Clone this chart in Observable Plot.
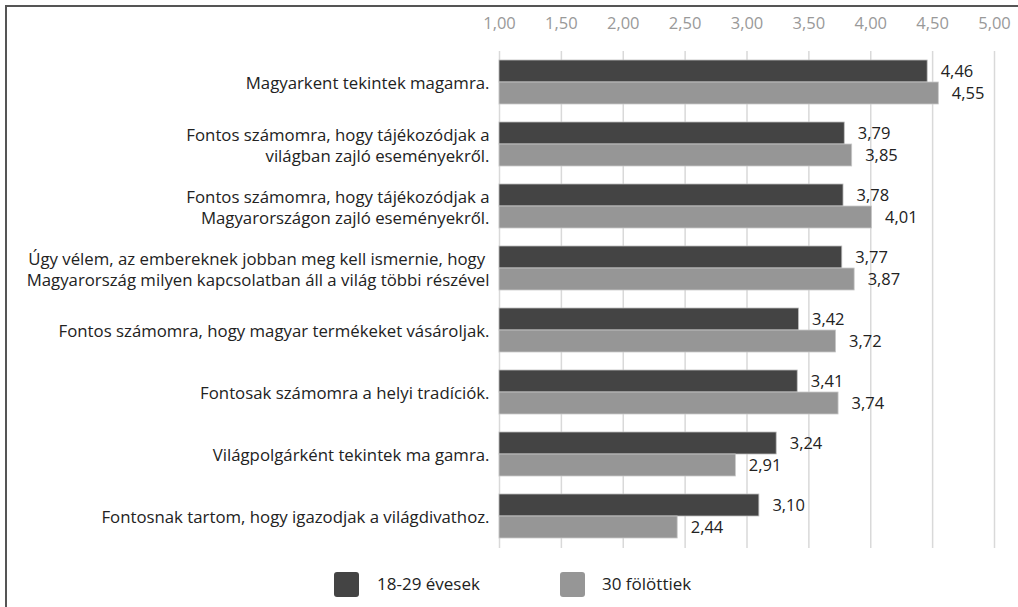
<!DOCTYPE html>
<html>
<head>
<meta charset="utf-8">
<script src="https://cdn.jsdelivr.net/npm/d3@7"></script>
<script src="https://cdn.jsdelivr.net/npm/@observablehq/plot@0.6"></script>
<style>
  html, body { margin: 0; padding: 0; background: #fff; }
  body { width: 1018px; height: 607px; overflow: hidden; position: relative; font-family: "Open Sans", Lato, sans-serif; }
  #frame { position: absolute; left: 5px; top: 5px; width: 1100px; height: 700px; border-left: 2px solid #555; border-top: 2px solid #555; box-sizing: border-box; pointer-events: none; }
  #chart { position: absolute; left: 0; top: 0; }
  #legend { position: absolute; top: 572px; left: 0; width: 1018px; height: 26px; font-size: 17px; color: #222; }
  .sw { position: absolute; top: 0; width: 25px; height: 25px; border-radius: 3px; }
  .lt { position: absolute; top: 1px; line-height: 22px; }
</style>
</head>
<body>
<div id="chart"></div>
<div id="frame"></div>
<div id="legend"></div>
<script>
const categories = [
  "Magyarkent tekintek magamra.",
  "Fontos számomra, hogy tájékozódjak a\nvilágban zajló eseményekről.",
  "Fontos számomra, hogy tájékozódjak a\nMagyarországon zajló eseményekről.",
  "Úgy vélem, az embereknek jobban meg kell ismernie, hogy \nMagyarország milyen kapcsolatban áll a világ többi részével",
  "Fontos számomra, hogy magyar termékeket vásároljak.",
  "Fontosak számomra a helyi tradíciók.",
  "Világpolgárként tekintek ma gamra.",
  "Fontosnak tartom, hogy igazodjak a világdivathoz."
];
const seriesNames = ["18-29 évesek", "30 fölöttiek"];
const young = [4.46, 3.79, 3.78, 3.77, 3.42, 3.41, 3.24, 3.10];
const older = [4.55, 3.85, 4.01, 3.87, 3.72, 3.74, 2.91, 2.44];
const xTicks = [1, 1.5, 2, 2.5, 3, 3.5, 4, 4.5, 5];
const colors = ["#444444", "#969696"];

const fmt = v => d3.format(".2f")(v).replace(".", ",");

const rowsY = categories.map((c, i) => ({cat: c, v: young[i]}));
const rowsO = categories.map((c, i) => ({cat: c, v: older[i]}));

const font = "'Open Sans', Lato, sans-serif";

const plot = Plot.plot({
  width: 1018,
  height: 560,
  marginTop: 51,
  marginBottom: 12,
  marginLeft: 499,
  marginRight: 24,
  style: {fontFamily: font, background: "transparent"},
  x: {domain: [1, 5], axis: null},
  y: {domain: categories, paddingInner: 0.29, paddingOuter: 0.153, axis: null},
  marks: [
    Plot.ruleX(xTicks, {stroke: "#d9d9d9", strokeWidth: 1.5}),
    Plot.barX(rowsY, {x1: 1, x2: "v", y: "cat", fill: colors[0], stroke: "#bdbdbd", strokeWidth: 0.8, insetBottom: 22}),
    Plot.barX(rowsO, {x1: 1, x2: "v", y: "cat", fill: colors[1], stroke: "#c8c8c8", strokeWidth: 0.8, insetTop: 22}),
    Plot.text(rowsY, {x: "v", y: "cat", text: d => fmt(d.v), dx: 13, dy: -11, textAnchor: "start", fontSize: 16.5, fill: "#222"}),
    Plot.text(rowsO, {x: "v", y: "cat", text: d => fmt(d.v), dx: 13, dy: 11, textAnchor: "start", fontSize: 16.5, fill: "#222"}),
    Plot.axisX(xTicks, {anchor: "top", tickSize: 0, tickPadding: 23, tickFormat: fmt, fontSize: 16.5, fill: "#999", label: null}),
    Plot.axisY({tickSize: 0, tickPadding: 10, fontSize: 16.8, fill: "#222", lineHeight: 1.25, label: null})
  ]
});
document.getElementById("chart").appendChild(plot);

const legend = document.getElementById("legend");
const swX = [334, 560];
const txX = [377, 602];
seriesNames.forEach((name, i) => {
  const s = document.createElement("div");
  s.className = "sw";
  s.style.left = swX[i] + "px";
  s.style.background = colors[i];
  legend.appendChild(s);
  const t = document.createElement("div");
  t.className = "lt";
  t.style.left = txX[i] + "px";
  t.textContent = name;
  legend.appendChild(t);
});
</script>
</body>
</html>
